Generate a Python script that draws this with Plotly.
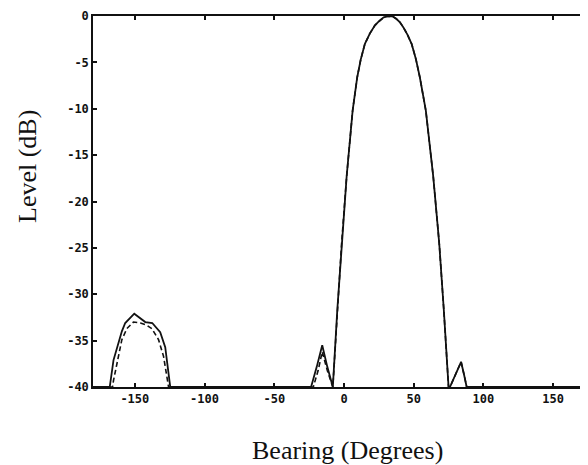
import plotly.graph_objects as go

# Bearing (degrees) and level (dB)
bearing_solid = [-180, -168, -165.3, -159.3, -156.9, -150.4, -142.5, -137.5, -131.8, -128.2, -124.6,
                 -23.6, -19.5, -15.6, -12, -8,
                 -4.8, -1.7, 1.9, 6.2, 9.5, 12, 15, 18.5, 22.2, 25.5, 28.5, 31, 33, 35, 37.5, 40, 42.5, 45.5,
                 48.5, 51.5, 54.4, 58.7, 64, 68.3, 71.6, 74.7, 75,
                 76, 80, 84, 86, 88, 180]
level_solid = [-40, -40, -37.1, -34.0, -33.1, -32.1, -33.0, -33.1, -34.1, -35.7, -40,
               -40, -37.8, -35.5, -37.8, -40,
               -31.7, -24.5, -17.3, -10.2, -6.6, -4.7, -3.0, -1.9, -1.0, -0.5, -0.15, -0.02, 0, -0.05, -0.3, -0.65, -1.2, -2.0,
               -3.0, -4.6, -6.6, -10.2, -17.3, -24.5, -31.7, -38.9, -40,
               -40, -38.7, -37.3, -38.6, -40, -40]

bearing_dashed = [-180, -166, -165.3, -159.3, -155.7, -151, -146, -142, -137.8, -133, -129.4, -125.8,
                  -22, -18.5, -15.6, -12, -8,
                  -4.8, -1.7, 1.9, 6.2, 9.5, 12, 15, 18.5, 22.2, 25.5, 28.5, 31, 33, 35, 37.5, 40, 42.5, 45.5,
                  48.5, 51.5, 54.4, 58.7, 64, 68.3, 71.6, 74.7, 75,
                  76, 80, 84, 86, 88, 180]
level_dashed = [-40, -40, -39.3, -34.9, -33.7, -33.0, -33.1, -33.3, -33.7, -34.9, -36.7, -40,
                -40, -38.2, -36.2, -38.2, -40,
                -31.7, -24.5, -17.3, -10.2, -6.6, -4.7, -3.0, -1.9, -1.0, -0.5, -0.15, -0.02, 0, -0.05, -0.3, -0.65, -1.2, -2.0,
                -3.0, -4.6, -6.6, -10.2, -17.3, -24.5, -31.7, -38.9, -40,
                -40, -38.7, -37.3, -38.6, -40, -40]

x_ticks = [-150, -100, -50, 0, 50, 100, 150]
y_ticks = [0, -5, -10, -15, -20, -25, -30, -35, -40]

fig = go.Figure()
fig.add_trace(go.Scatter(x=bearing_dashed, y=level_dashed, mode="lines",
                         line=dict(color="#111", width=1.6, dash="5px,3px"), showlegend=False))
fig.add_trace(go.Scatter(x=bearing_solid, y=level_solid, mode="lines",
                         line=dict(color="#111", width=1.8), showlegend=False))

W, H = 580, 457
L, R, T, B = 85, 0, 8, 78
PW, PH = W - L - R, H - T - B

tickfont = dict(family="DejaVu Sans Mono", size=12, color="#111", weight="bold")
fig.update_layout(
    width=W, height=H,
    margin=dict(l=L, r=R, t=T, b=B, autoexpand=False),
    paper_bgcolor="white", plot_bgcolor="white",
    xaxis=dict(range=[-180, 175], tickvals=x_ticks, ticktext=[str(v) for v in x_ticks],
               showgrid=False, zeroline=False, showline=True, linecolor="#111", linewidth=1.5,
               mirror="ticks", ticks="inside", ticklen=4, tickwidth=1.5, tickcolor="#111",
               tickfont=tickfont, automargin=False),
    yaxis=dict(range=[-40, 0], tickvals=y_ticks, ticktext=[str(v) for v in y_ticks],
               showgrid=False, zeroline=False, showline=True, linecolor="#111", linewidth=1.5,
               mirror=False, ticks="inside", ticklen=4, tickwidth=1.5, tickcolor="#111",
               tickfont=tickfont, automargin=False),
    annotations=[
        dict(text="Bearing (Degrees)", xref="paper", yref="paper", x=(339 - L) / PW, y=-(443 - (H - B)) / PH,
             showarrow=False, xanchor="center", yanchor="middle",
             font=dict(family="Liberation Serif", size=26, color="#111")),
        dict(text="Level (dB)", xref="paper", yref="paper", x=-(L - 19) / PW, y=((H - B) - 159) / PH,
             showarrow=False, xanchor="center", yanchor="middle", textangle=-90,
             font=dict(family="Liberation Serif", size=26, color="#111")),
    ],
)

fig.write_html("out.html")
